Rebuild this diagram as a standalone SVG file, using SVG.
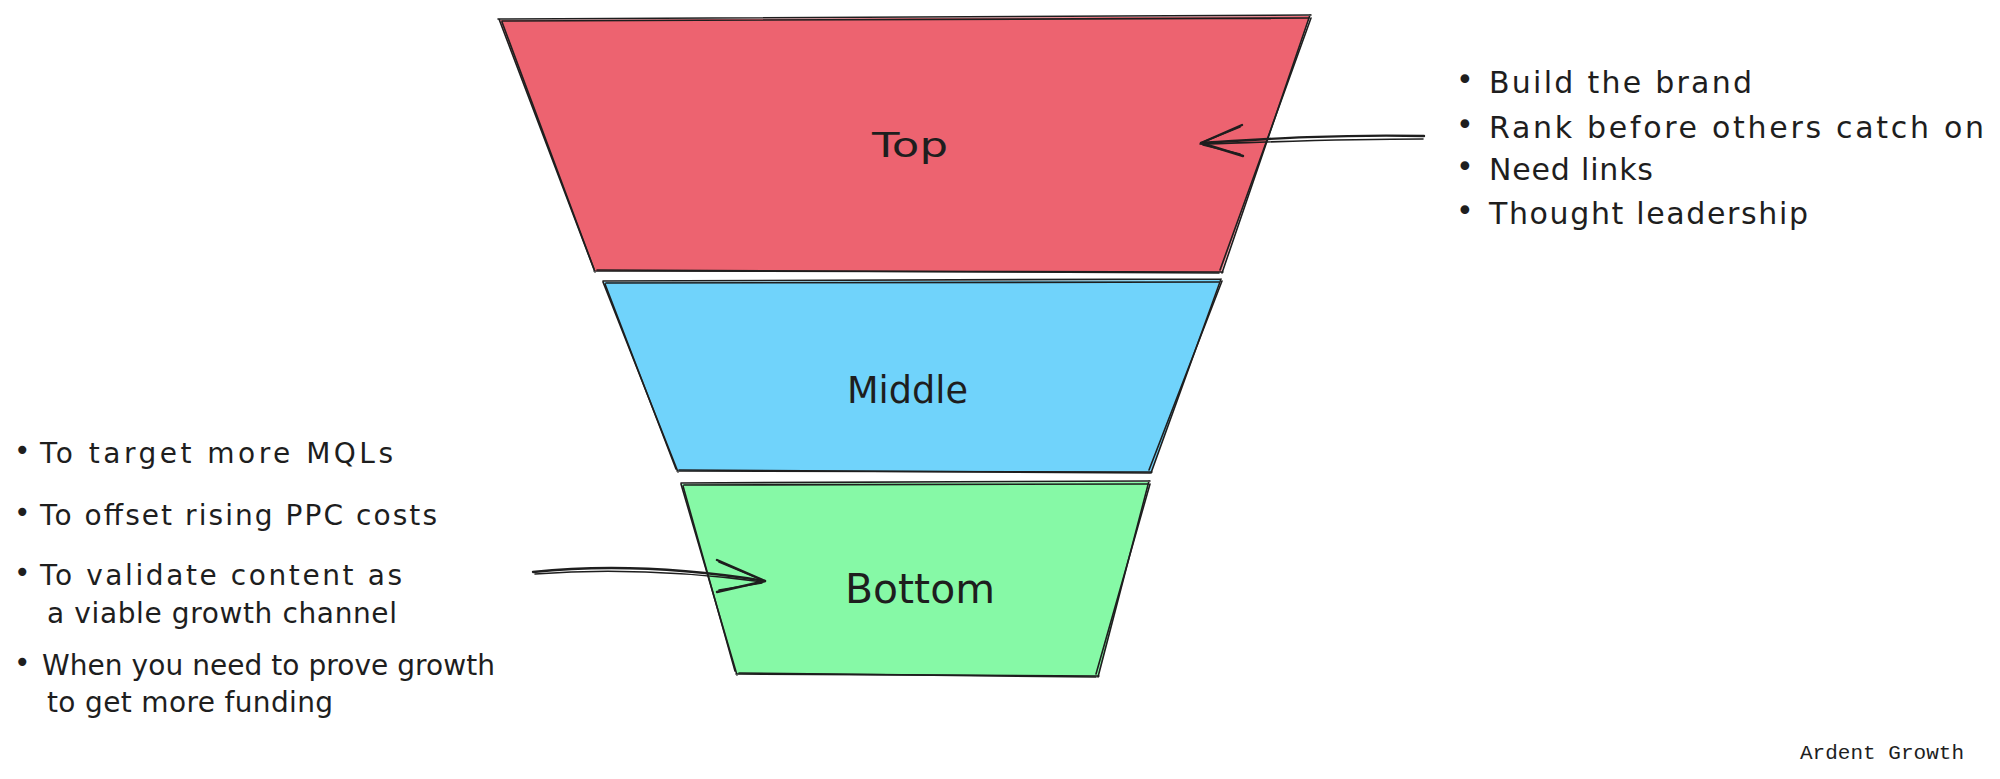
<svg xmlns="http://www.w3.org/2000/svg" width="2000" height="779" viewBox="0 0 2000 779">
<style>
.edge{fill:none;stroke:#1e1e1e;stroke-width:1.6;stroke-linecap:round;stroke-linejoin:round}
.arr{fill:none;stroke:#1e1e1e;stroke-width:2.4;stroke-linecap:round;stroke-linejoin:round}
.arr2{fill:none;stroke:#1e1e1e;stroke-width:1.6;stroke-linecap:round;stroke-linejoin:round}
.hand{font-family:"DejaVu Sans","Liberation Sans",sans-serif;fill:#1e1e1e}
.label{font-family:"DejaVu Sans","Liberation Sans",sans-serif;fill:#1e1e1e}
.mono{font-family:"Liberation Mono","DejaVu Sans Mono",monospace;fill:#1e1e1e}
</style>
<rect width="2000" height="779" fill="#ffffff"/>

<g id="node-top">
<polygon points="500,20 1310,16 1221,272 595,271" fill="#ED6370"/>
<path class="edge" d="M498,19 L1311,15 M1310,15 L1222,273 M1223,272 L594,271 M595,272 L499,19"/>
<path class="edge" d="M502,21 L1309,18 M1311,18 L1220,270 M1219,273 L597,270 M594,269 L502,22"/>
<text class="label" x="872" y="157" font-size="34" textLength="76" lengthAdjust="spacingAndGlyphs">Top</text>
</g>

<g id="node-middle">
<polygon points="604,282 1220,280 1151,472 678,471" fill="#70D3FB"/>
<path class="edge" d="M603,281 L1221,279 M1221,279 L1151,473 M1152,472 L677,471 M678,472 L603,282"/>
<path class="edge" d="M606,283 L1219,282 M1222,281 L1149,470 M1150,473 L679,470 M676,469 L605,284"/>
<text class="label" x="847" y="403" font-size="37" textLength="121" lengthAdjust="spacingAndGlyphs">Middle</text>
</g>

<g id="node-bottom">
<polygon points="682,484 1149,482 1098,676 737,674" fill="#86F9A6"/>
<path class="edge" d="M681,483 L1150,481 M1149,481 L1098,677 M1099,676 L736,674 M737,675 L681,484"/>
<path class="edge" d="M684,485 L1148,484 M1150,484 L1096,674 M1096,677 L739,673 M735,671 L683,486"/>
<text class="label" x="845" y="603" font-size="41" textLength="150" lengthAdjust="spacingAndGlyphs">Bottom</text>
</g>

<g id="connectors">
<path class="arr" d="M1424,136 C1330,134 1250,140 1201,143"/>
<path class="arr2" d="M1423,139 C1330,139 1245,143 1200,144"/>
<path class="arr" d="M1242,125 L1201,143 L1243,156"/>
<path class="arr2" d="M1240,127 L1203,142 M1203,145 L1240,154"/>
<path class="arr" d="M533,572 C610,564 690,569 765,581"/>
<path class="arr2" d="M535,574 C615,568 695,573 763,582"/>
<path class="arr" d="M717,560 L765,581 L717,592"/>
<path class="arr2" d="M719,562 L762,580 M762,583 L719,590"/>
</g>

<g id="notes-top">
<text class="hand" font-size="30"><tspan x="1456" y="90">•</tspan><tspan x="1489" y="93" textLength="263" lengthAdjust="spacing">Build the brand</tspan></text>
<text class="hand" font-size="30"><tspan x="1456" y="135">•</tspan><tspan x="1489" y="138" textLength="495" lengthAdjust="spacing">Rank before others catch on</tspan></text>
<text class="hand" font-size="30"><tspan x="1456" y="177">•</tspan><tspan x="1489" y="180" textLength="164" lengthAdjust="spacing">Need links</tspan></text>
<text class="hand" font-size="30"><tspan x="1456" y="221">•</tspan><tspan x="1489" y="224" textLength="319" lengthAdjust="spacing">Thought leadership</tspan></text>
</g>

<g id="notes-bottom">
<text class="hand" font-size="28"><tspan x="14" y="460">•</tspan><tspan x="40" y="463" textLength="353" lengthAdjust="spacing">To target more MQLs</tspan></text>
<text class="hand" font-size="28"><tspan x="14" y="522">•</tspan><tspan x="40" y="525" textLength="397" lengthAdjust="spacing">To offset rising PPC costs</tspan></text>
<text class="hand" font-size="28"><tspan x="14" y="582">•</tspan><tspan x="40" y="585" textLength="362" lengthAdjust="spacing">To validate content as</tspan></text>
<text class="hand" font-size="28" x="47" y="623" textLength="350" lengthAdjust="spacing">a viable growth channel</text>
<text class="hand" font-size="28"><tspan x="14" y="672">•</tspan><tspan x="42" y="675" textLength="453" lengthAdjust="spacing">When you need to prove growth</tspan></text>
<text class="hand" font-size="28" x="47" y="712" textLength="286" lengthAdjust="spacing">to get more funding</text>
</g>

<text class="mono" x="1800" y="759" font-size="21" textLength="164" lengthAdjust="spacing">Ardent Growth</text>
</svg>
